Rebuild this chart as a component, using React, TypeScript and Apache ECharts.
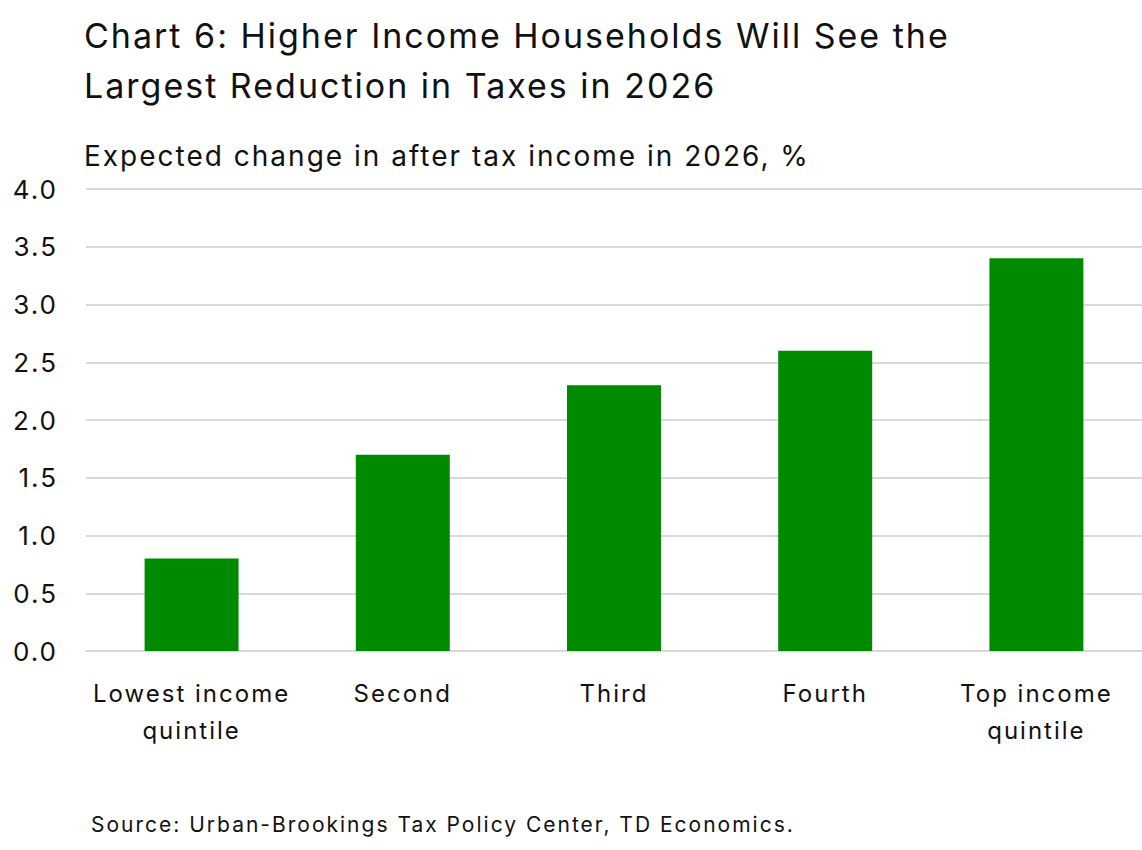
import React, { useEffect, useRef } from "react";
import * as echarts from "echarts";

const categories = ["Lowest income\nquintile", "Second", "Third", "Fourth", "Top income\nquintile"];
const values = [0.8, 1.7, 2.3, 2.6, 3.4];
const titleText = "Chart 6: Higher Income Households Will See the\nLargest Reduction in Taxes in 2026";
const subtitleText = "Expected change in after tax income in 2026, %";
const sourceText = "Source: Urban-Brookings Tax Policy Center, TD Economics.";

const FONT = "Inter, 'Noto Sans', sans-serif";

export default function App() {
  const ref = useRef<HTMLDivElement>(null);
  useEffect(() => {
    if (!ref.current) return;
    const chart = echarts.init(ref.current, null, { renderer: "svg" });
    chart.setOption({
      animation: false,
      backgroundColor: "#ffffff",
      textStyle: { fontFamily: FONT },
      graphic: [
        {
          type: "text",
          left: 84,
          top: 10,
          style: {
            text: titleText,
            font: `400 34px ${FONT}`,
            fill: "#111111",
            lineHeight: 50,
          },
        },
        {
          type: "text",
          left: 84,
          top: 142,
          style: {
            text: subtitleText,
            font: `400 28px ${FONT}`,
            fill: "#111111",
          },
        },
        {
          type: "text",
          left: 91,
          top: 814,
          style: {
            text: sourceText,
            font: `400 21px ${FONT}`,
            fill: "#111111",
          },
        },
      ],
      grid: { left: 86, right: 0, top: 189, bottom: 199, containLabel: false },
      xAxis: {
        type: "category",
        data: categories,
        axisLine: { show: true, lineStyle: { color: "#d9d9d9", width: 2 } },
        axisTick: { show: false },
        axisLabel: {
          color: "#111111",
          fontSize: 24,
          fontFamily: FONT,
          lineHeight: 37,
          margin: 24,
          interval: 0,
        },
      },
      yAxis: {
        type: "value",
        min: 0,
        max: 4,
        interval: 0.5,
        axisLine: { show: false },
        axisTick: { show: false },
        splitLine: { lineStyle: { color: "#d9d9d9", width: 2 } },
        axisLabel: {
          color: "#111111",
          fontSize: 26,
          fontFamily: FONT,
          margin: 28,
          formatter: (v: number) => v.toFixed(1),
        },
      },
      series: [
        {
          type: "bar",
          data: values,
          barWidth: "44.5%",
          itemStyle: { color: "#008a00" },
        },
      ],
    });
    return () => chart.dispose();
  }, []);
  return (
    <div
      ref={ref}
      style={{ position: "fixed", left: 0, top: 0, width: 1142, height: 850, letterSpacing: "2px" }}
    />
  );
}
